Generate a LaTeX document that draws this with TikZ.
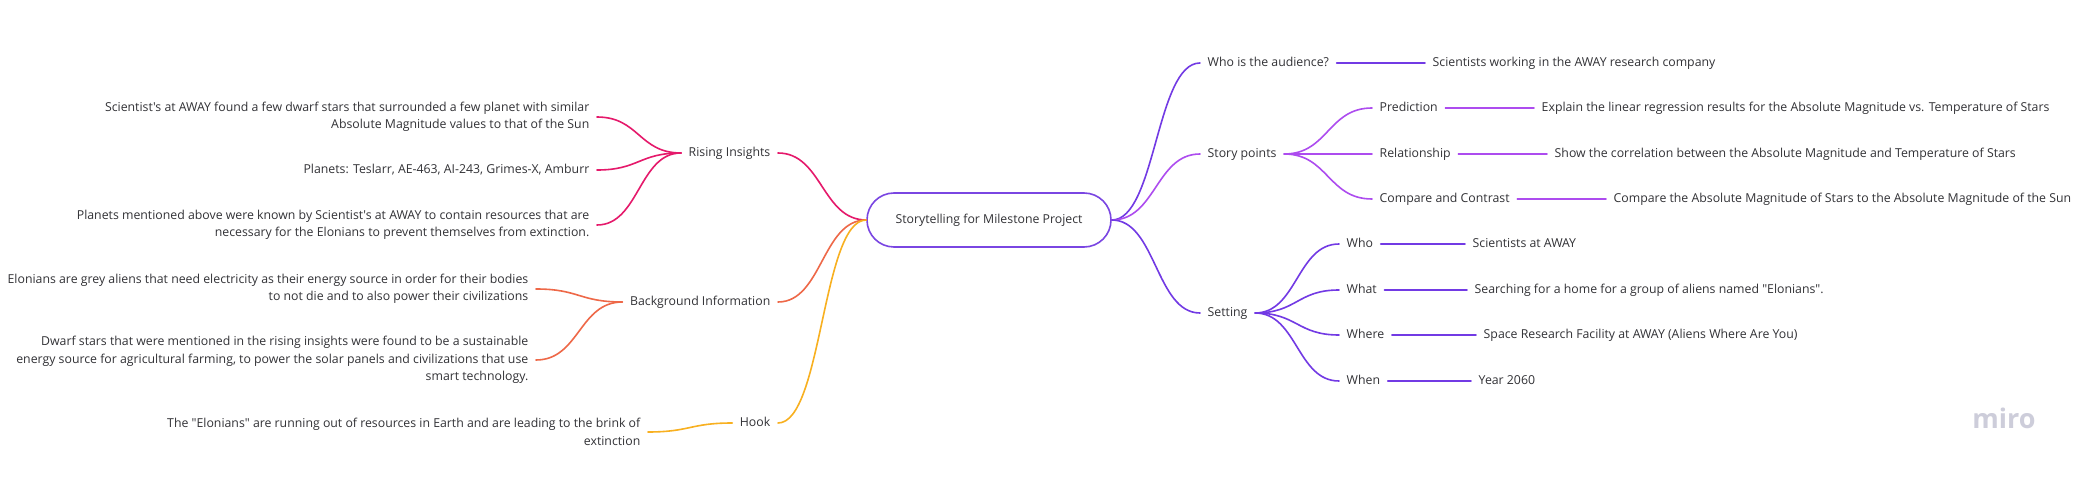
\documentclass[tikz,border=0pt]{standalone}
\usepackage{fontspec}
\setmainfont{Open Sans}[Ligatures=TeXOff]
\usetikzlibrary{calc}
\definecolor{txt}{RGB}{50,50,54}
\definecolor{cRise}{RGB}{229,25,107}
\definecolor{cBack}{RGB}{238,104,72}
\definecolor{cHook}{RGB}{248,176,32}
\definecolor{cPurple}{RGB}{114,58,228}
\definecolor{cStory}{RGB}{173,76,239}
\definecolor{cCentral}{RGB}{122,70,226}
\definecolor{cMiro}{RGB}{205,205,218}
\begin{document}
\begin{tikzpicture}[x=1pt,y=-1pt,
  lbl/.style={inner xsep=7.5pt, inner ysep=0pt, text height=9.3pt, text depth=1.7pt, text=txt, font=\fontsize{12.3}{17.5}\selectfont},
  para/.style={inner xsep=7.5pt, inner ysep=0pt, align=right, text=txt, font=\fontsize{12.3}{17.5}\selectfont},
  link/.style={line width=1.6pt, line cap=round},
  cto/.style={to path={let \p1=(\tikztostart), \p2=(\tikztotarget) in .. controls ({(\x1+\x2)/2},\y1) and ({(\x1+\x2)/2},\y2) .. (\tikztotarget)}}
]
\fill[white] (0,0) rectangle (2088,478);
\useasboundingbox (0,0) rectangle (2088,478);

% central
\node[draw=cCentral, line width=1.6pt, rounded corners=27pt, minimum width=244pt, minimum height=54pt, inner sep=0pt, text=txt, font=\fontsize{12.3}{17.5}\selectfont] (central) at (989,220) {Storytelling for Milestone Project};

% left branches
\node[lbl, anchor=east] (rising) at (778,153) {Rising Insights};
\node[lbl, anchor=east] (back) at (778,302) {Background Information};
\node[lbl, anchor=east] (hook) at (778,423) {Hook};

\node[para, anchor=east] (l1) at (597,117) {Scientist's at AWAY found a few dwarf stars that surrounded a few planet with similar\\Absolute Magnitude values to that of the Sun};
\node[lbl, anchor=east] (l2) at (597,170) {Planets: Teslarr, AE-463, AI-243, Grimes-X, Amburr};
\node[para, anchor=east] (l3) at (597,225) {Planets mentioned above were known by Scientist's at AWAY to contain resources that are\\necessary for the Elonians to prevent themselves from extinction.};
\node[para, anchor=east] (b1) at (536,289) {Elonians are grey aliens that need electricity as their energy source in order for their bodies\\to not die and to also power their civilizations};
\node[para, anchor=east] (b2) at (536,360) {Dwarf stars that were mentioned in the rising insights were found to be a sustainable\\energy source for agricultural farming, to power the solar panels and civilizations that use\\smart technology.};
\node[para, anchor=east] (h1) at (648,432) {The "Elonians" are running out of resources in Earth and are leading to the brink of\\extinction};

% right branches
\node[lbl, anchor=west] (who) at (1200,63) {Who is the audience?};
\node[lbl, anchor=west] (aud) at (1425,63) {Scientists working in the AWAY research company};
\node[lbl, anchor=west] (story) at (1200,154) {Story points};
\node[lbl, anchor=west] (pred) at (1372,108) {Prediction};
\node[lbl, anchor=west] (predl) at (1534,108) {Explain the linear regression results for the Absolute Magnitude vs. Temperature of Stars};
\node[lbl, anchor=west] (rel) at (1372,154) {Relationship};
\node[lbl, anchor=west] (rell) at (1547,154) {Show the correlation between the Absolute Magnitude and Temperature of Stars};
\node[lbl, anchor=west] (comp) at (1372,199) {Compare and Contrast};
\node[lbl, anchor=west] (compl) at (1606,199) {Compare the Absolute Magnitude of Stars to the Absolute Magnitude of the Sun};
\node[lbl, anchor=west] (setting) at (1200,313) {Setting};
\node[lbl, anchor=west] (swho) at (1339,244) {Who};
\node[lbl, anchor=west] (swhol) at (1465,244) {Scientists at AWAY};
\node[lbl, anchor=west] (swhat) at (1339,290) {What};
\node[lbl, anchor=west] (swhatl) at (1467,290) {Searching for a home for a group of aliens named "Elonians".};
\node[lbl, anchor=west] (swhere) at (1339,335) {Where};
\node[lbl, anchor=west] (swherel) at (1476,335) {Space Research Facility at AWAY (Aliens Where Are You)};
\node[lbl, anchor=west] (swhen) at (1339,381) {When};
\node[lbl, anchor=west] (swhenl) at (1471,381) {Year 2060};

% logo
\node[text=cMiro, font=\bfseries\fontsize{27}{27}\selectfont, anchor=base, inner sep=0pt] (miro) at (2004,428) {miro};

% connectors left
\draw[link, cRise, cto] (central.west) to (rising.east);
\draw[link, cRise, cto] (rising.west) to (l1.east);
\draw[link, cRise, cto] (rising.west) to (l2.east);
\draw[link, cRise, cto] (rising.west) to (l3.east);
\draw[link, cBack, cto] (central.west) to (back.east);
\draw[link, cBack, cto] (back.west) to (b1.east);
\draw[link, cBack, cto] (back.west) to (b2.east);
\draw[link, cHook, cto] (central.west) to (hook.east);
\draw[link, cHook, cto] (hook.west) to (h1.east);

% connectors right
\draw[link, cPurple, cto] (central.east) to (who.west);
\draw[link, cPurple] (who.east) -- (aud.west);
\draw[link, cStory, cto] (central.east) to (story.west);
\draw[link, cStory, cto] (story.east) to (pred.west);
\draw[link, cStory, cto] (story.east) to (rel.west);
\draw[link, cStory, cto] (story.east) to (comp.west);
\draw[link, cStory] (pred.east) -- (predl.west);
\draw[link, cStory] (rel.east) -- (rell.west);
\draw[link, cStory] (comp.east) -- (compl.west);
\draw[link, cPurple, cto] (central.east) to (setting.west);
\draw[link, cPurple, cto] (setting.east) to (swho.west);
\draw[link, cPurple, cto] (setting.east) to (swhat.west);
\draw[link, cPurple, cto] (setting.east) to (swhere.west);
\draw[link, cPurple, cto] (setting.east) to (swhen.west);
\draw[link, cPurple] (swho.east) -- (swhol.west);
\draw[link, cPurple] (swhat.east) -- (swhatl.west);
\draw[link, cPurple] (swhere.east) -- (swherel.west);
\draw[link, cPurple] (swhen.east) -- (swhenl.west);
\end{tikzpicture}
\end{document}
